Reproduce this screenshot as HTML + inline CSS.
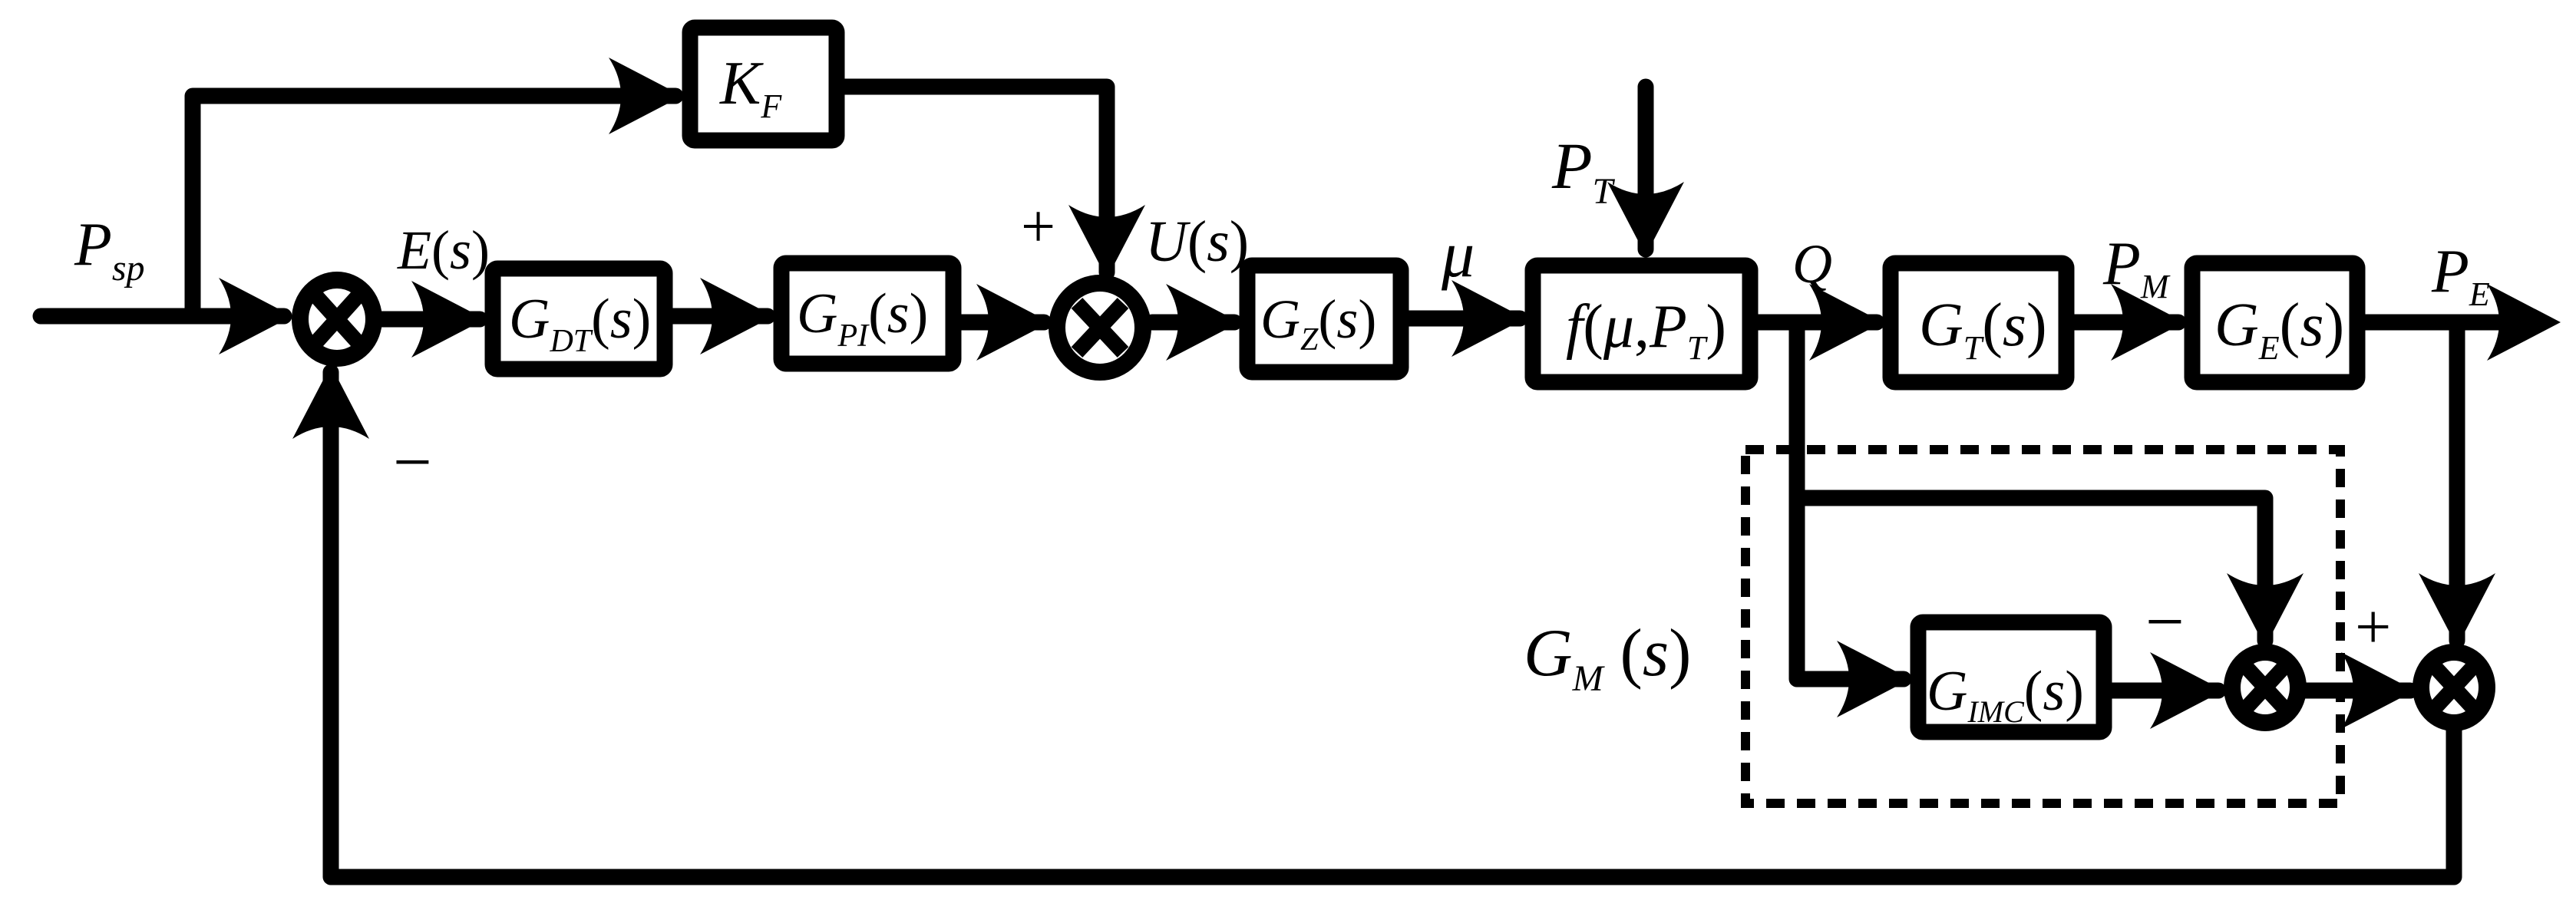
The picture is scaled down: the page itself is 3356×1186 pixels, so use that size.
<!DOCTYPE html>
<html><head><meta charset="utf-8"><style>
html,body{margin:0;padding:0;background:#fff}
svg{display:block}
text{font-family:"Liberation Serif","Times New Roman",serif;fill:#000}
.i{font-style:italic}
</style></head><body>
<svg width="3356" height="1186" viewBox="0 0 3356 1186" xmlns="http://www.w3.org/2000/svg">
<defs>
<path id="ah" d="M0,0 L-96,-50 Q-64,0 -96,50 Z" fill="#000"/>
</defs>
<g fill="none" stroke="#000" stroke-width="21" stroke-linejoin="round" stroke-linecap="round">
<path d="M53,412 H370"/>
<path d="M251,412 V125 H880"/>
<rect x="899" y="36" width="191" height="147" rx="6"/>
<path d="M1100,113 H1442 V355"/>
<path d="M497,416 H625"/>
<rect x="642" y="350" width="224" height="131" rx="6"/>
<path d="M876,412 H1000"/>
<rect x="1018" y="343" width="224" height="131" rx="6"/>
<path d="M1252,420 H1360"/>
<path d="M1501,420 H1608"/>
<rect x="1625" y="346" width="200" height="139" rx="6"/>
<path d="M1835,415 H1980"/>
<rect x="1997" y="346" width="283" height="152" rx="6"/>
<path d="M2144,113 V325"/>
<path d="M2290,420 H2445"/>
<rect x="2463" y="343" width="229" height="155" rx="6"/>
<path d="M2702,420 H2838"/>
<rect x="2856" y="343" width="215" height="155" rx="6"/>
<path d="M3081,420 H3300"/>
<path d="M3201,420 V835"/>
<path d="M2341,420 V885 H2480"/>
<path d="M2341,649 H2951 V835"/>
<rect x="2499" y="811" width="242" height="143" rx="6"/>
<path d="M2751,900 H2890"/>
<path d="M3003,900 H3140"/>
<path d="M3197,945 V1143 H431 V485"/>
</g>
<rect x="2274" y="586" width="775" height="461" fill="none" stroke="#000" stroke-width="12" stroke-dasharray="24 16"/>
<g stroke="#000" stroke-width="22" fill="#fff">
<ellipse cx="439" cy="416" rx="48" ry="51"/>
<ellipse cx="1433" cy="427" rx="56" ry="58"/>
<ellipse cx="2951" cy="896" rx="43" ry="46"/>
<ellipse cx="3197" cy="896" rx="43" ry="46"/>
</g>
<g stroke="#000" stroke-width="20">
<path d="M412,386 L466,446 M466,386 L412,446"/>
<path d="M1403,395 L1463,459 M1463,395 L1403,459"/>
<path d="M2927,870 L2975,922 M2975,870 L2927,922"/>
<path d="M3173,870 L3221,922 M3221,870 L3173,922"/>
</g>
<use href="#ah" transform="translate(381,412)"/>
<use href="#ah" transform="translate(889,125)"/>
<use href="#ah" transform="translate(1442,363) rotate(90)"/>
<use href="#ah" transform="translate(632,416)"/>
<use href="#ah" transform="translate(1008,412)"/>
<use href="#ah" transform="translate(1368,420)"/>
<use href="#ah" transform="translate(1615,420)"/>
<use href="#ah" transform="translate(1987,415)"/>
<use href="#ah" transform="translate(2144,333) rotate(90)"/>
<use href="#ah" transform="translate(2453,420)"/>
<use href="#ah" transform="translate(2846,420)"/>
<use href="#ah" transform="translate(3336,420)"/>
<use href="#ah" transform="translate(3201,843) rotate(90)"/>
<use href="#ah" transform="translate(2951,843) rotate(90)"/>
<use href="#ah" transform="translate(2489,885)"/>
<use href="#ah" transform="translate(2897,900)"/>
<use href="#ah" transform="translate(3146,900)"/>
<use href="#ah" transform="translate(431,476) rotate(-90)"/>
<g font-size="80">
<text x="97" y="345" class="i">P<tspan font-size="48" dy="20">sp</tspan></text>
<text x="518" y="350" font-size="72"><tspan class="i">E</tspan>(<tspan class="i">s</tspan>)</text>
<text x="938" y="135" class="i">K<tspan font-size="44" dy="18">F</tspan></text>
<text x="663" y="440" font-size="74"><tspan class="i">G</tspan><tspan class="i" font-size="42" dy="18">DT</tspan><tspan dy="-18">(</tspan><tspan class="i">s</tspan>)</text>
<text x="1038" y="433" font-size="74"><tspan class="i">G</tspan><tspan class="i" font-size="42" dy="18">PI</tspan><tspan dy="-18">(</tspan><tspan class="i">s</tspan>)</text>
<text x="1330" y="322" font-size="80">+</text>
<text x="1492" y="340" font-size="76"><tspan class="i">U</tspan>(<tspan class="i">s</tspan>)</text>
<text x="512" y="632" font-size="90">−</text>
<text x="1642" y="440" font-size="72"><tspan class="i">G</tspan><tspan class="i" font-size="42" dy="16">Z</tspan><tspan dy="-16">(</tspan><tspan class="i">s</tspan>)</text>
<text x="1878" y="360" class="i" font-size="86">μ</text>
<text x="2040" y="452"><tspan class="i">f</tspan>(<tspan class="i">μ</tspan>,<tspan class="i">P</tspan><tspan class="i" font-size="44" dy="16">T</tspan><tspan dy="-16">)</tspan></text>
<text x="2022" y="245" class="i" font-size="86">P<tspan font-size="48" dy="20">T</tspan></text>
<text x="2335" y="368" font-size="72" class="i">Q</text>
<text x="2500" y="450"><tspan class="i">G</tspan><tspan class="i" font-size="44" dy="18">T</tspan><tspan dy="-18">(</tspan><tspan class="i">s</tspan>)</text>
<text x="2740" y="370" class="i">P<tspan font-size="44" dy="18">M</tspan></text>
<text x="2885" y="450"><tspan class="i">G</tspan><tspan class="i" font-size="44" dy="18">E</tspan><tspan dy="-18">(</tspan><tspan class="i">s</tspan>)</text>
<text x="3168" y="380" class="i">P<tspan font-size="44" dy="18">E</tspan></text>
<text x="2510" y="925" font-size="74"><tspan class="i">G</tspan><tspan class="i" font-size="40" dy="16">IMC</tspan><tspan dy="-16">(</tspan><tspan class="i">s</tspan>)</text>
<text x="2795" y="840" font-size="90">−</text>
<text x="3068" y="845" font-size="84">+</text>
<text x="1985" y="880" font-size="88"><tspan class="i">G</tspan><tspan class="i" font-size="48" dy="20">M</tspan><tspan dy="-20"> (</tspan><tspan class="i">s</tspan>)</text>
</g>
</svg>
</body></html>
